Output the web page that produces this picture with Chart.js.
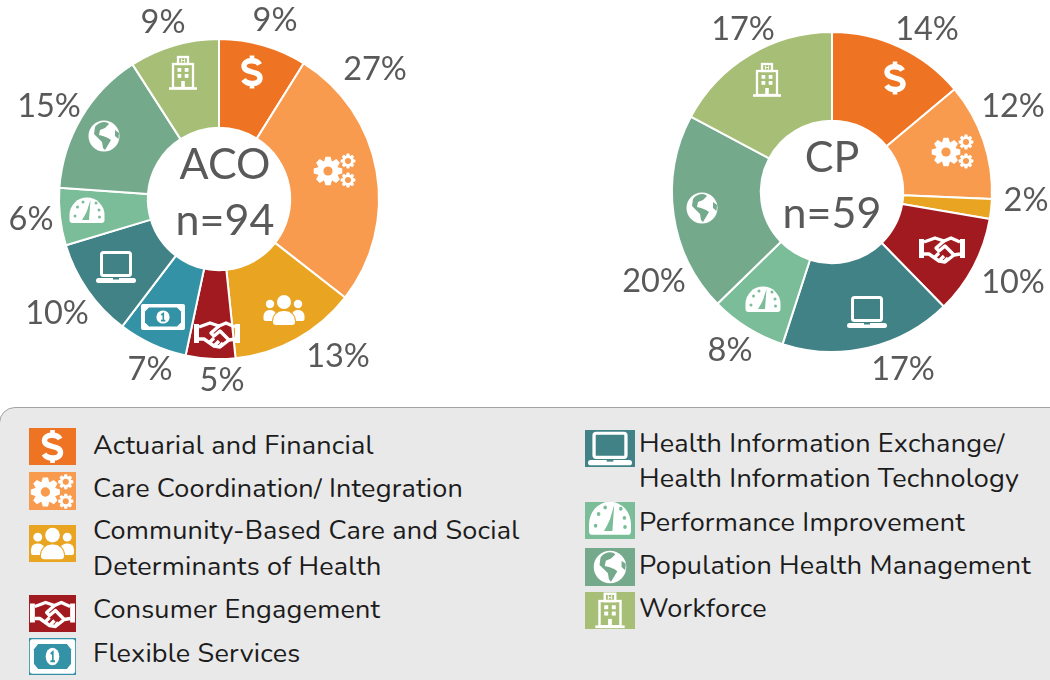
<!DOCTYPE html>
<html>
<head>
<meta charset="utf-8">
<script src="https://cdn.jsdelivr.net/npm/chart.js@4"></script>
<style>
html,body{margin:0;padding:0;background:#fff;width:1050px;height:680px;overflow:hidden}
#stage{position:relative;width:1050px;height:680px;overflow:hidden}
canvas.pie{position:absolute}
#panel{position:absolute;left:-1px;top:407px;width:1070px;height:300px;background:#e9e9e9;border:1px solid #a3a3a3;border-radius:16px;box-sizing:border-box}
.sw{position:absolute}
.lt{position:absolute;font:27px "Nunito","Lato","Open Sans",sans-serif;color:#1c1c1c;white-space:nowrap;line-height:36px;letter-spacing:.2px}
</style>
</head>
<body>
<div id="stage">
<div id="panel"></div>
<canvas id="aco" class="pie" width="440" height="400" style="left:-1px;top:-1px"></canvas>
<canvas id="cp" class="pie" width="440" height="400" style="left:612px;top:-8px"></canvas>
</div>
<script>
const categories = ["Actuarial and Financial","Care Coordination/ Integration","Community-Based Care and Social Determinants of Health","Consumer Engagement","Flexible Services","Health Information Exchange/ Health Information Technology","Performance Improvement","Population Health Management","Workforce"];
const acoValues = [8.9,26.7,12.8,5.0,7.0,10.0,5.8,14.8,9.1];
const cpValues = [13.9,11.8,2.0,10.0,0,17.3,7.7,20.1,17.2];
const colors = ["#EE7423","#F99B4E","#E9A521","#A01A1F","#3392A6","#408286","#7ABD98","#74A98C","#A6BE75"];
const iconNames = ["dollar","gears","people","hands","money","laptop","gauge","globe","building"];

/* layout only: text and icon offsets from each doughnut's centre */
const acoLabelAt = [[56,-178],[156,-129],[119,158],[3,182],[-69,171],[-162,115],[-188,21],[-170,-92],[-56,-176]];
const cpLabelAt = [[95,-162],[181,-85],[194,9],[181,91],[null,null],[71,178],[-102,159],[-178,90],[-89,-162]];
const acoIconAt = [[33,-127],[116,-29],[65,111],[-2,135],[-56,118],[-103,68],[-132,13],[-115,-63],[-36,-126]];
const cpIconAt = [[63,-114],[121,-41],[null,null],[110,57],[null,null],[35,120],[-69,109],[-130,16],[-65,-112]];
const legendLeft = [
 {i:0,y:428,h:37,base:[455],lines:["Actuarial and Financial"]},
 {i:1,y:472,h:38,base:[498],lines:["Care Coordination/ Integration"]},
 {i:2,y:525,h:37,base:[540,576],lines:["Community-Based Care and Social","Determinants of Health"]},
 {i:3,y:595,h:37,base:[619],lines:["Consumer Engagement"]},
 {i:4,y:638,h:37,base:[663],lines:["Flexible Services"]}];
const legendRight = [
 {i:5,y:430,h:37,base:[453,488],lines:["Health Information Exchange/","Health Information Technology"]},
 {i:6,y:502,h:37,base:[532],lines:["Performance Improvement"]},
 {i:7,y:548,h:38,base:[575],lines:["Population Health Management"]},
 {i:8,y:592,h:37,base:[618],lines:["Workforce"]}];

function rr(c,x,y,w,h,r){c.beginPath();c.roundRect(x,y,w,h,r);}
function gear(c,x,y,R,r,n,hole,fg,bg){
  c.fillStyle=fg;c.beginPath();
  for(let i=0;i<n;i++){
    const a=i/n*Math.PI*2,d=Math.PI/n;
    [[a-d*.95,r],[a-d*.45,R],[a+d*.45,R],[a+d*.95,r]].forEach((p,j)=>{
      const px=x+Math.cos(p[0])*p[1],py=y+Math.sin(p[0])*p[1];
      (i===0&&j===0)?c.moveTo(px,py):c.lineTo(px,py);});
  }
  c.closePath();c.fill();
  c.fillStyle=bg;c.beginPath();c.arc(x,y,hole,0,7);c.fill();
}
const icons={
 dollar(c,fg){c.strokeStyle=fg;c.lineWidth=5.4;c.lineCap="butt";c.beginPath();c.moveTo(7.5,-7.5);
   c.bezierCurveTo(5,-12.5,-8,-13,-8,-6);c.bezierCurveTo(-8,2,8,-2,8,6);c.bezierCurveTo(8,13,-5,13,-8.5,7.5);c.stroke();
   c.lineWidth=4.6;c.beginPath();c.moveTo(0,-16.5);c.lineTo(0,-10);c.moveTo(0,10);c.lineTo(0,16.5);c.stroke();},
 gears(c,fg,bg){gear(c,-7,1,14.5,10.5,8,4.6,fg,bg);gear(c,13,-9,7.5,5.4,8,3,fg,bg);gear(c,13,10,7.5,5.4,8,3,fg,bg);},
 people(c,fg,bg){c.fillStyle=fg;
   [[-14,1],[14,-1]].forEach(([x,s])=>{c.beginPath();c.arc(x,-6,4.2,0,7);c.fill();
     rr(c,x-6.5,0,13,11,[6,6,2,2]);c.fill();});
   c.beginPath();c.arc(0,-8,7,0,7);c.fill();
   c.strokeStyle=bg;c.lineWidth=1.8;rr(c,-11,1,22,14,[10,10,3,3]);c.stroke();c.fill();},
 hands(c,fg,bg){c.fillStyle=fg;c.fillRect(-23,-10,5,19);c.fillRect(18,-10,5,19);
   c.strokeStyle=fg;c.lineWidth=3.4;c.lineJoin="round";c.beginPath();
   c.moveTo(-18,-7);c.lineTo(-7,-11);c.lineTo(2,-8);c.lineTo(9,-11);c.lineTo(18,-7);
   c.moveTo(18,5);c.lineTo(12,6);c.lineTo(3,13);c.lineTo(-3,12);c.lineTo(-13,5);c.lineTo(-18,5);c.stroke();
   c.beginPath();c.moveTo(2,-8);c.lineTo(-6,-1);c.lineTo(-3,2);c.lineTo(3,-3);c.lineTo(12,6);
   c.moveTo(-7,8);c.lineTo(-3,4);c.moveTo(-2,11);c.lineTo(2,7);c.moveTo(3,12);c.lineTo(6,9);c.stroke();},
 money(c,fg,bg){c.fillStyle=fg;rr(c,-22,-13,44,26,2);c.fill();c.fillStyle=bg;c.beginPath();
   c.moveTo(-14,-9.5);c.lineTo(14,-9.5);c.lineTo(18,-5.5);c.lineTo(18,5.5);c.lineTo(14,9.5);c.lineTo(-14,9.5);c.lineTo(-18,5.5);c.lineTo(-18,-5.5);c.closePath();c.fill();
   c.fillStyle=fg;c.beginPath();c.arc(0,0,6.6,0,7);c.fill();c.strokeStyle=bg;c.lineWidth=1.6;c.beginPath();c.moveTo(-1.8,-2);c.lineTo(.3,-3.4);c.lineTo(.3,3.6);c.moveTo(-2,3.6);c.lineTo(2.4,3.6);c.stroke();},
 laptop(c,fg,bg){c.strokeStyle=fg;c.lineWidth=3;rr(c,-14.5,-14.5,29,23,2);c.stroke();
   c.fillStyle=fg;rr(c,-20,11,40,5,2.5);c.fill();c.fillStyle=bg;c.fillRect(-3,11,6,1.5);},
 gauge(c,fg,bg){c.fillStyle=fg;c.beginPath();c.arc(0,3,17.5,Math.PI,0);c.lineTo(17.5,8);c.quadraticCurveTo(17.5,11,14.5,11);c.lineTo(-14.5,11);c.quadraticCurveTo(-17.5,11,-17.5,8);c.closePath();c.fill();
   c.fillStyle=bg;[[-12,4],[-9.5,-5],[-4,-10],[9,-9],[12,-2],[12.5,5]].forEach(([x,y])=>{c.beginPath();c.arc(x,y,1.5,0,7);c.fill();});
   c.beginPath();c.moveTo(3.5,-12);c.lineTo(2,8);c.lineTo(-5,8);c.lineTo(-2,3);c.lineTo(0,-1);c.closePath();c.fill();},
 globe(c,fg,bg){c.fillStyle=fg;c.beginPath();c.arc(0,0,15.5,0,7);c.fill();c.fillStyle=bg;
   c.beginPath();c.moveTo(-9,-9);c.bezierCurveTo(-5,-15,3,-15,5,-12);c.lineTo(1,-8);c.lineTo(-4,-6);c.lineTo(-5,-1);c.lineTo(-1,0);c.lineTo(4,2);c.lineTo(7,4);c.lineTo(4,9);c.lineTo(1,14);c.lineTo(-1,12);c.lineTo(-2,6);c.lineTo(-6,2);c.lineTo(-10,-2);c.closePath();c.fill();
   c.beginPath();c.moveTo(11,-6);c.lineTo(15,-3);c.lineTo(14.5,3);c.lineTo(11,0);c.closePath();c.fill();},
 building(c,fg,bg){c.strokeStyle=fg;c.fillStyle=fg;c.lineWidth=2.3;c.strokeRect(-10,-9,20,24);c.strokeRect(-5,-16,10,7);
   c.lineWidth=2.6;c.beginPath();c.moveTo(-14,15.5);c.lineTo(14,15.5);c.stroke();
   [-5.5,1.7].forEach(x=>[-5,1].forEach(y=>c.fillRect(x,y,3.8,3.8)));
   c.fillRect(-1.8,8,3.6,7);
   c.lineWidth=.9;c.beginPath();c.moveTo(-1.6,-14.5);c.lineTo(-1.6,-10.5);c.moveTo(1.6,-14.5);c.lineTo(1.6,-10.5);c.moveTo(-1.6,-12.5);c.lineTo(1.6,-12.5);c.stroke();}
};
function drawIcon(c,name,x,y,kx,ky,bg){c.save();c.translate(x,y);c.scale(kx,ky);icons[name](c,"#fff",bg);c.restore();}

const overlay={
 id:"overlay",
 afterDatasetsDraw(chart,a,o){
  const c=chart.ctx,m=chart.getDatasetMeta(0).data[0],cx=m.x,cy=m.y;
  iconNames.forEach((n,i)=>{const p=o.iconAt[i];if(p[0]!==null)drawIcon(c,n,cx+p[0],cy+p[1],1,1,colors[i]);});
  c.save();c.textAlign="center";c.textBaseline="middle";c.fillStyle="#595959";
  c.font='32.5px Lato';
  o.values.forEach((v,i)=>{const p=o.labelAt[i];if(p[0]!==null)c.fillText(Math.round(v)+"%",cx+p[0],cy+p[1]);});
  c.font='43px Lato';
  c.fillText(o.title,cx+o.titleDx,cy+o.titleDy[0]);
  c.fillText(o.count,cx+o.titleDx,cy+o.titleDy[1]);
  c.restore();
 }
};
function pie(id,values,labelAt,iconAt,title,count,titleDx,titleDy){
 new Chart(document.getElementById(id),{
  type:"doughnut",
  data:{labels:categories,datasets:[{data:values,backgroundColor:colors,borderColor:"#fff",borderWidth:2,borderAlign:"center"}]},
  plugins:[overlay],
  options:{responsive:false,animation:false,cutout:"44.5%",rotation:0,
   layout:{padding:{left:59,right:59,top:39,bottom:39}},
   plugins:{legend:{display:false},tooltip:{enabled:false},
    overlay:{values,labelAt,iconAt,title,count,titleDx,titleDy}}}
 });
}
pie("aco",acoValues,acoLabelAt,acoIconAt,"ACO","n=94",6,[-34,22]);
pie("cp",cpValues,cpLabelAt,cpIconAt,"CP","n=59",0,[-34,22]);

const stage=document.getElementById("stage");
function legend(items,swX,swW,textX,k){
 items.forEach(it=>{
  const cv=document.createElement("canvas");cv.className="sw";cv.width=swW;cv.height=it.h;
  cv.style.left=swX+"px";cv.style.top=it.y+"px";stage.appendChild(cv);
  const c=cv.getContext("2d");c.fillStyle=colors[it.i];c.fillRect(0,0,swW,it.h);
  const s=k[iconNames[it.i]]||[1,1];
  drawIcon(c,iconNames[it.i],swW/2,it.h/2,s[0],s[1],colors[it.i]);
  it.lines.forEach((t,j)=>{const d=document.createElement("div");d.className="lt";d.textContent=t;
   d.style.left=textX+"px";d.style.top=(it.base[j]-27)+"px";stage.appendChild(d);});
 });
}
const legendScale={gears:[1.02,1.02],hands:[.98,1],money:[1.03,1.32],laptop:[1.1,1.05],gauge:[1.2,1.3],globe:[1.05,1.05],building:[1.05,1.05],people:[1.05,1.05],dollar:[1,1]};
legend(legendLeft,29,47,93,legendScale);
legend(legendRight,585,50,639,legendScale);
</script>
</body>
</html>
